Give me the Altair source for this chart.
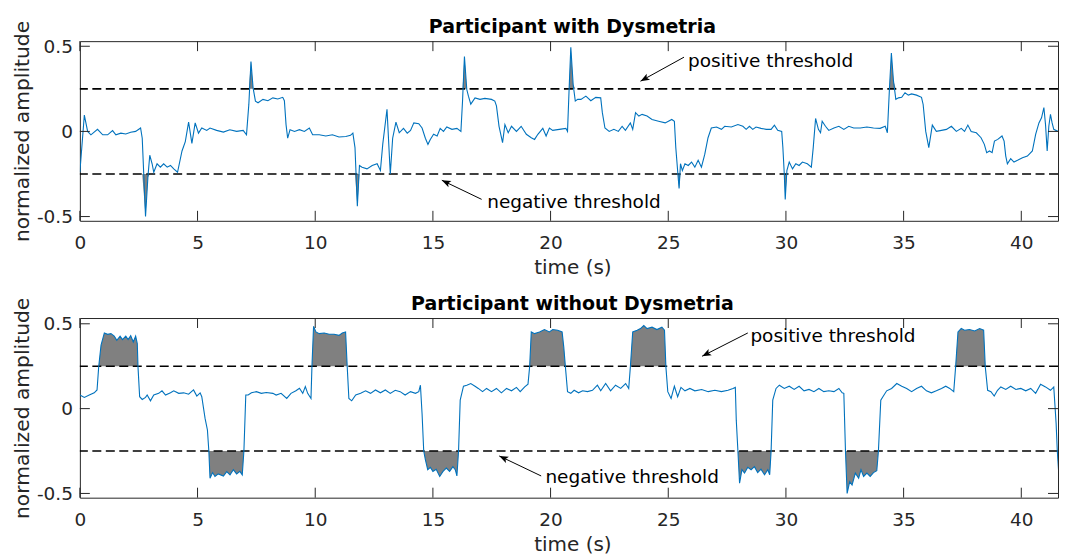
import math
import altair as alt
import numpy as np
import pandas as pd

# ---------------- data ----------------
t_dys = [0.0, 0.19, 0.33, 0.47, 0.75, 0.97, 1.18, 1.39, 1.53, 1.74, 1.95, 2.16, 2.37, 2.58, 2.65, 2.79, 2.89, 2.97,
         3.07, 3.14, 3.28, 3.42, 3.56, 3.71, 3.85, 3.99, 4.15, 4.34, 4.48, 4.62, 4.76, 4.9, 5.04, 5.18, 5.39, 5.53,
         5.81, 6.1, 6.37, 6.66, 6.94, 7.08, 7.18, 7.27, 7.36, 7.46, 7.57, 7.78, 7.99, 8.2, 8.41, 8.62, 8.69, 8.76,
         8.83, 8.93, 9.12, 9.33, 9.54, 9.75, 9.89, 10.17, 10.45, 10.73, 11.01, 11.3, 11.5, 11.6, 11.69, 11.79, 11.88,
         11.99, 12.2, 12.42, 12.63, 12.77, 12.87, 13.05, 13.19, 13.29, 13.43, 13.57, 13.75, 13.91, 14.05, 14.19, 14.4,
         14.54, 14.68, 14.79, 14.89, 15.03, 15.18, 15.31, 15.45, 15.59, 15.81, 16.02, 16.19, 16.26, 16.34, 16.44,
         16.51, 16.61, 16.79, 17.0, 17.21, 17.49, 17.63, 17.7, 17.81, 17.96, 18.06, 18.2, 18.34, 18.55, 18.75, 18.97,
         19.18, 19.32, 19.46, 19.67, 19.81, 19.95, 20.09, 20.37, 20.65, 20.72, 20.79, 20.86, 20.96, 21.05, 21.15,
         21.29, 21.5, 21.71, 21.92, 22.13, 22.2, 22.31, 22.49, 22.69, 22.88, 23.04, 23.18, 23.39, 23.49, 23.61, 23.75,
         23.89, 24.1, 24.31, 24.59, 24.87, 25.15, 25.26, 25.32, 25.41, 25.46, 25.52, 25.6, 25.71, 25.85, 25.99, 26.13,
         26.27, 26.41, 26.55, 26.69, 26.83, 27.05, 27.26, 27.4, 27.68, 27.96, 28.17, 28.31, 28.45, 28.59, 28.73,
         28.94, 29.16, 29.37, 29.51, 29.65, 29.82, 29.87, 29.93, 29.97, 30.04, 30.14, 30.28, 30.42, 30.56, 30.7,
         30.91, 31.08, 31.16, 31.26, 31.38, 31.47, 31.54, 31.68, 31.82, 32.04, 32.25, 32.46, 32.67, 32.88, 33.16,
         33.44, 33.72, 34.0, 34.22, 34.31, 34.4, 34.48, 34.57, 34.67, 34.78, 34.92, 35.06, 35.2, 35.34, 35.55, 35.76,
         35.83, 35.94, 36.07, 36.22, 36.39, 36.61, 36.82, 37.03, 37.24, 37.45, 37.59, 37.73, 37.87, 38.09, 38.29,
         38.43, 38.53, 38.65, 38.76, 38.86, 39.0, 39.18, 39.27, 39.34, 39.41, 39.55, 39.69, 39.84, 40.05, 40.26,
         40.47, 40.61, 40.75, 40.86, 40.96, 41.03, 41.1, 41.17, 41.24, 41.31, 41.38, 41.56]
v_dys = [-0.24, 0.096, 0.0, -0.02, 0.012, -0.02, -0.02, 0.005, -0.02, -0.01, -0.015, -0.005, 0.0, 0.02, -0.04, -0.50,
         -0.27, -0.14, -0.19, -0.24, -0.19, -0.21, -0.19, -0.21, -0.20, -0.22, -0.24, -0.115, -0.06, 0.055, -0.07,
         0.05, -0.01, 0.02, 0.006, 0.02, 0.006, -0.004, 0.01, 0.0, 0.006, -0.02, 0.16, 0.41, 0.256, 0.178, 0.168,
         0.188, 0.18, 0.197, 0.19, 0.2, 0.18, 0.04, -0.04, 0.01, 0.0, 0.01, 0.0, 0.02, -0.02, -0.02, -0.027, -0.02,
         -0.033, -0.03, -0.023, -0.01, -0.095, -0.44, -0.2, -0.21, -0.22, -0.2, -0.19, -0.23, -0.075, 0.13, -0.25,
         -0.04, 0.055, -0.008, 0.018, -0.01, 0.006, 0.05, 0.045, 0.02, -0.04, -0.076, -0.047, -0.017, -0.027, 0.018,
         0.0, 0.026, 0.012, 0.018, 0.0, 0.18, 0.44, 0.246, 0.207, 0.16, 0.197, 0.188, 0.194, 0.188, 0.178, 0.15,
         0.03, -0.066, 0.04, -0.008, 0.03, 0.0, 0.03, -0.017, -0.037, -0.047, -0.017, 0.018, -0.027, 0.02, 0.006,
         0.012, 0.018, 0.0, 0.256, 0.494, 0.275, 0.178, 0.188, 0.188, 0.207, 0.18, 0.2, 0.197, 0.11, 0.02, 0.0,
         0.012, 0.0, 0.03, 0.006, 0.05, 0.012, 0.11, 0.09, 0.1, 0.09, 0.07, 0.06, 0.05, 0.07, 0.06, -0.095, -0.25,
         -0.335, -0.19, -0.23, -0.19, -0.2, -0.18, -0.21, -0.17, -0.21, -0.135, -0.037, 0.02, 0.026, 0.012, 0.03,
         0.026, 0.04, 0.03, 0.012, 0.03, 0.012, 0.026, 0.018, 0.012, 0.012, 0.037, 0.006, 0.0, -0.095, -0.25, -0.40,
         -0.23, -0.18, -0.22, -0.19, -0.20, -0.18, -0.19, -0.21, -0.095, 0.076, 0.012, -0.008, 0.06, 0.03, 0.006,
         0.02, 0.03, 0.012, 0.03, 0.02, 0.02, 0.026, 0.02, 0.018, 0.03, -0.008, 0.256, 0.46, 0.295, 0.188, 0.197,
         0.2, 0.227, 0.213, 0.22, 0.213, 0.2, 0.158, 0.0, -0.095, 0.037, 0.0, 0.006, 0.012, 0.03, 0.0, 0.018, 0.0,
         0.037, 0.0, -0.008, -0.037, -0.076, -0.125, -0.115, -0.125, -0.057, -0.047, -0.027, -0.057, -0.145, -0.19,
         -0.16, -0.18, -0.17, -0.155, -0.145, -0.115, -0.017, 0.05, 0.08, 0.14, 0.04, -0.115, 0.03, 0.1, 0.05, 0.012,
         0.0]

t_nor = [0.0, 0.19, 0.4, 0.61, 0.73, 0.8, 0.9, 1.04, 1.18, 1.32, 1.46, 1.57, 1.71, 1.81, 1.95, 2.05, 2.16, 2.27,
         2.37, 2.44, 2.47, 2.54, 2.65, 2.79, 2.86, 3.0, 3.14, 3.35, 3.49, 3.64, 3.85, 3.99, 4.2, 4.41, 4.62, 4.83,
         4.97, 5.11, 5.18, 5.32, 5.42, 5.48, 5.53, 5.64, 5.74, 5.88, 6.1, 6.24, 6.38, 6.52, 6.66, 6.8, 6.9, 6.97,
         7.05, 7.15, 7.29, 7.5, 7.71, 7.92, 8.2, 8.34, 8.55, 8.79, 8.97, 9.18, 9.33, 9.47, 9.58, 9.68, 9.82, 9.86,
         9.93, 10.03, 10.17, 10.38, 10.59, 10.8, 11.01, 11.15, 11.29, 11.36, 11.43, 11.55, 11.72, 11.93, 12.14,
         12.35, 12.56, 12.77, 12.98, 13.19, 13.4, 13.61, 13.82, 14.05, 14.26, 14.4, 14.47, 14.54, 14.61, 14.68,
         14.78, 14.89, 15.0, 15.14, 15.29, 15.43, 15.57, 15.71, 15.85, 15.95, 16.02, 16.09, 16.16, 16.3, 16.44,
         16.61, 16.79, 16.93, 17.11, 17.28, 17.49, 17.7, 17.91, 18.13, 18.34, 18.55, 18.71, 18.9, 19.04, 19.11,
         19.18, 19.32, 19.53, 19.74, 19.95, 20.09, 20.3, 20.49, 20.56, 20.63, 20.72, 20.86, 21.0, 21.19, 21.36,
         21.57, 21.78, 21.99, 22.13, 22.34, 22.55, 22.76, 22.98, 23.19, 23.32, 23.39, 23.49, 23.68, 23.82, 23.96,
         24.1, 24.31, 24.52, 24.73, 24.84, 24.9, 24.98, 25.12, 25.26, 25.4, 25.54, 25.71, 25.92, 26.13, 26.42, 26.7,
         26.98, 27.26, 27.54, 27.75, 27.85, 27.89, 27.96, 28.03, 28.13, 28.24, 28.38, 28.52, 28.66, 28.8, 28.94,
         29.09, 29.23, 29.31, 29.37, 29.44, 29.58, 29.72, 29.93, 30.14, 30.35, 30.56, 30.77, 30.98, 31.19, 31.4,
         31.61, 31.82, 32.04, 32.25, 32.39, 32.46, 32.53, 32.6, 32.71, 32.81, 32.95, 33.09, 33.19, 33.3, 33.44,
         33.58, 33.72, 33.86, 33.93, 34.03, 34.14, 34.28, 34.49, 34.71, 34.92, 35.13, 35.34, 35.55, 35.76, 35.97,
         36.18, 36.39, 36.61, 36.79, 36.96, 37.13, 37.21, 37.31, 37.45, 37.59, 37.8, 38.02, 38.23, 38.4, 38.47,
         38.57, 38.71, 38.85, 38.99, 39.13, 39.34, 39.55, 39.77, 39.98, 40.19, 40.4, 40.61, 40.82, 41.03, 41.24,
         41.38, 41.48, 41.53, 41.59]
v_nor = [0.08, 0.066, 0.08, 0.093, 0.11, 0.246, 0.374, 0.446, 0.438, 0.442, 0.427, 0.403, 0.427, 0.407, 0.427, 0.407,
         0.43, 0.393, 0.427, 0.383, 0.246, 0.07, 0.054, 0.066, 0.08, 0.046, 0.08, 0.09, 0.105, 0.08, 0.093, 0.105,
         0.09, 0.093, 0.085, 0.11, 0.074, 0.093, 0.07, -0.058, -0.126, -0.25, -0.41, -0.377, -0.40, -0.385, -0.397,
         -0.371, -0.39, -0.36, -0.385, -0.37, -0.39, -0.25, 0.08, 0.08, 0.093, 0.1, 0.09, 0.095, 0.09, 0.08, 0.09,
         0.06, 0.09, 0.105, 0.12, 0.09, 0.13, 0.09, 0.06, 0.246, 0.485, 0.452, 0.442, 0.446, 0.438, 0.438, 0.432,
         0.446, 0.452, 0.246, 0.06, 0.046, 0.08, 0.09, 0.105, 0.09, 0.11, 0.093, 0.11, 0.09, 0.108, 0.1, 0.08, 0.1,
         0.09, 0.1, 0.138, -0.03, -0.25, -0.30, -0.36, -0.346, -0.37, -0.357, -0.40, -0.37, -0.35, -0.37, -0.342,
         -0.36, -0.397, -0.25, 0.05, 0.132, 0.138, 0.148, 0.132, 0.119, 0.1, 0.119, 0.1, 0.119, 0.093, 0.119, 0.105,
         0.125, 0.1, 0.128, 0.144, 0.246, 0.452, 0.442, 0.452, 0.466, 0.452, 0.466, 0.462, 0.452, 0.364, 0.246, 0.1,
         0.09, 0.108, 0.093, 0.105, 0.1, 0.108, 0.138, 0.105, 0.148, 0.105, 0.138, 0.119, 0.148, 0.119, 0.246,
         0.452, 0.462, 0.472, 0.49, 0.472, 0.48, 0.466, 0.48, 0.462, 0.246, 0.1, 0.06, 0.132, 0.07, 0.125, 0.105,
         0.119, 0.105, 0.113, 0.1, 0.108, 0.1, 0.108, 0.119, 0.125, -0.068, -0.25, -0.44, -0.36, -0.38, -0.346,
         -0.36, -0.342, -0.377, -0.357, -0.39, -0.36, -0.39, -0.25, 0.05, 0.119, 0.138, 0.119, 0.132, 0.113, 0.132,
         0.105, 0.113, 0.1, 0.119, 0.1, 0.105, 0.1, 0.119, 0.093, 0.09, -0.25, -0.50, -0.43, -0.45, -0.38, -0.41,
         -0.36, -0.40, -0.38, -0.40, -0.377, -0.366, -0.25, 0.05, 0.074, 0.105, 0.119, 0.148, 0.132, 0.119, 0.1,
         0.119, 0.132, 0.105, 0.093, 0.105, 0.119, 0.132, 0.119, 0.1, 0.246, 0.452, 0.472, 0.462, 0.466, 0.458,
         0.472, 0.462, 0.246, 0.108, 0.1, 0.074, 0.108, 0.128, 0.113, 0.132, 0.113, 0.119, 0.105, 0.119, 0.09,
         0.144, 0.128, 0.108, 0.128, -0.087, -0.25, -0.38]

THRESHOLD = 0.25
X_TICKS = [0, 5, 10, 15, 20, 25, 30, 35, 40]
Y_TICKS = [-0.5, 0, 0.5]
X_DOMAIN = [0, 41.56]
Y_DOMAIN_TOP = [-0.525, 0.53]
Y_DOMAIN_BOT = [-0.525, 0.534]

TITLES = ["Participant with Dysmetria", "Participant without Dysmetria"]
NOTE_LABELS = ["positive threshold", "negative threshold"]
# annotation positions: text (left, baseline), arrow tail, arrow head
notes_top_text_t = [25.84, 17.31]
notes_top_text_v = [0.379, -0.447]
notes_top_tail_t = [25.67, 17.07]
notes_top_tail_v = [0.436, -0.399]
notes_top_head_t = [23.82, 15.38]
notes_top_head_v = [0.295, -0.287]

notes_bot_text_t = [28.49, 19.78]
notes_bot_text_v = [0.394, -0.44]
notes_bot_tail_t = [28.38, 19.6]
notes_bot_tail_v = [0.446, -0.397]
notes_bot_head_t = [26.44, 17.82]
notes_bot_head_v = [0.309, -0.279]

# ---------------- styling ----------------
W, H = 980, 180
FONT = "DejaVu Sans"
AXIS_COLOR = "#262626"
LINE_COLOR = "#0072BD"
FILL_COLOR = "#808080"
TICK_LEN = 10
CENTER_SHIFT = 3.5
ARROW_PATH = "M0,0 L0.42,1.1 L0,0.85 L-0.42,1.1 Z"
LABEL_EXPR = "replace(format(datum.value, '~g'), '\u2212', '-')"


def panel(t, v, ydom, title, tx, tv, at1, av1, at2, av2):
    xs = alt.Scale(domain=X_DOMAIN, nice=False, zero=False)
    ys = alt.Scale(domain=ydom, nice=False, zero=False)
    xaxis = alt.Axis(values=X_TICKS, title="time (s)", ticks=False, domain=False, grid=False,
                     labelPadding=12.5, labelFlush=False, labelFontSize=18.5, labelColor=AXIS_COLOR,
                     labelFont=FONT, labelExpr=LABEL_EXPR,
                     titleFont=FONT, titleFontSize=20, titleFontWeight="normal", titleColor=AXIS_COLOR,
                     titleX=W / 2 + CENTER_SHIFT, titleY=37.0, titleBaseline="top", titleAlign="center")
    yaxis = alt.Axis(values=Y_TICKS, title="normalized amplitude", ticks=False, domain=False, grid=False,
                     labelPadding=7.4, labelFlush=False, labelFontSize=18.5, labelColor=AXIS_COLOR,
                     labelFont=FONT, labelExpr=LABEL_EXPR,
                     titleFont=FONT, titleFontSize=20.3, titleFontWeight="normal", titleColor=AXIS_COLOR,
                     titleX=-47.5, titleY=H / 2, titleAngle=270, titleBaseline="bottom", titleAlign="center")

    def X(f):
        return alt.X(f, type="quantitative", scale=xs, axis=xaxis)

    def Y(f):
        return alt.Y(f, type="quantitative", scale=ys, axis=yaxis)

    df = pd.DataFrame({"t": t, "v": v})
    df["pos"] = np.maximum(df["v"], THRESHOLD)
    df["neg"] = np.minimum(df["v"], -THRESHOLD)
    df["pbase"] = THRESHOLD
    df["nbase"] = -THRESHOLD

    fill_pos = alt.Chart(df).mark_area(color=FILL_COLOR, opacity=1, clip=True).encode(
        x=X("t"), y=Y("pos"), y2=alt.Y2("pbase"))
    fill_neg = alt.Chart(df).mark_area(color=FILL_COLOR, opacity=1, clip=True).encode(
        x=X("t"), y=Y("neg"), y2=alt.Y2("nbase"))

    th = pd.DataFrame({"v": [THRESHOLD, -THRESHOLD]})
    thresh = alt.Chart(th).mark_rule(color="black", strokeWidth=1.6, strokeDash=[9, 4.5]).encode(y=Y("v"))

    line = alt.Chart(df).mark_line(color=LINE_COLOR, strokeWidth=1.1, clip=True).encode(x=X("t"), y=Y("v"))

    xt = pd.DataFrame({"t": X_TICKS})
    yt = pd.DataFrame({"v": Y_TICKS})
    tick_style = dict(color=AXIS_COLOR, strokeWidth=1)
    xt_top = alt.Chart(xt).mark_rule(**tick_style).encode(x=X("t"), y=alt.value(0), y2=alt.value(TICK_LEN))
    xt_bot = alt.Chart(xt).mark_rule(**tick_style).encode(x=X("t"), y=alt.value(H - TICK_LEN), y2=alt.value(H))
    yt_left = alt.Chart(yt).mark_rule(**tick_style).encode(y=Y("v"), x=alt.value(0), x2=alt.value(TICK_LEN))
    yt_right = alt.Chart(yt).mark_rule(**tick_style).encode(y=Y("v"), x=alt.value(W - TICK_LEN), x2=alt.value(W))

    sx = W / (X_DOMAIN[1] - X_DOMAIN[0])
    sy = H / (ydom[1] - ydom[0])
    angles = []
    for a, b, c, d in zip(at1, av1, at2, av2):
        dx = (c - a) * sx
        dy = -(d - b) * sy
        angles.append(math.degrees(math.atan2(dx, -dy)) % 360)
    notes = pd.DataFrame({"label": NOTE_LABELS, "tx": tx, "tv": tv, "t1": at1, "v1": av1,
                          "t2": at2, "v2": av2, "ang": angles})
    note_text = alt.Chart(notes).mark_text(align="left", baseline="alphabetic", font=FONT, fontSize=18.5,
                                           color="black").encode(x=X("tx"), y=Y("tv"), text="label:N")
    shaft = alt.Chart(notes).mark_rule(color="black", strokeWidth=1).encode(
        x=X("t1"), x2=alt.X2("t2"), y=Y("v1"), y2=alt.Y2("v2"))
    head = alt.Chart(notes).mark_point(shape=ARROW_PATH, filled=True, color="black", opacity=1, size=270,
                                       strokeWidth=0).encode(
        x=X("t2"), y=Y("v2"), angle=alt.Angle("ang:Q", scale=None))

    ttl = pd.DataFrame({"title": [title]})
    title_mark = alt.Chart(ttl).mark_text(align="center", baseline="alphabetic", font=FONT, fontSize=19,
                                          fontWeight="bold", color="black").encode(
        x=alt.value(W / 2 + CENTER_SHIFT), y=alt.value(-7.8), text="title:N")

    return alt.layer(fill_pos, fill_neg, thresh, line, xt_top, xt_bot, yt_left, yt_right,
                     shaft, head, note_text, title_mark).properties(width=W, height=H)


top = panel(t_dys, v_dys, Y_DOMAIN_TOP, TITLES[0], notes_top_text_t, notes_top_text_v,
            notes_top_tail_t, notes_top_tail_v, notes_top_head_t, notes_top_head_v)
bottom = panel(t_nor, v_nor, Y_DOMAIN_BOT, TITLES[1], notes_bot_text_t, notes_bot_text_v,
               notes_bot_tail_t, notes_bot_tail_v, notes_bot_head_t, notes_bot_head_v)

chart = alt.vconcat(top, bottom, spacing=15.4).properties(
    padding={"left": 3, "top": 8.7, "right": 0, "bottom": 0}
).configure(font=FONT, background="white").configure_view(stroke=AXIS_COLOR, strokeWidth=1)

chart.save("out.html", embed_options={"renderer": "svg", "actions": False})
